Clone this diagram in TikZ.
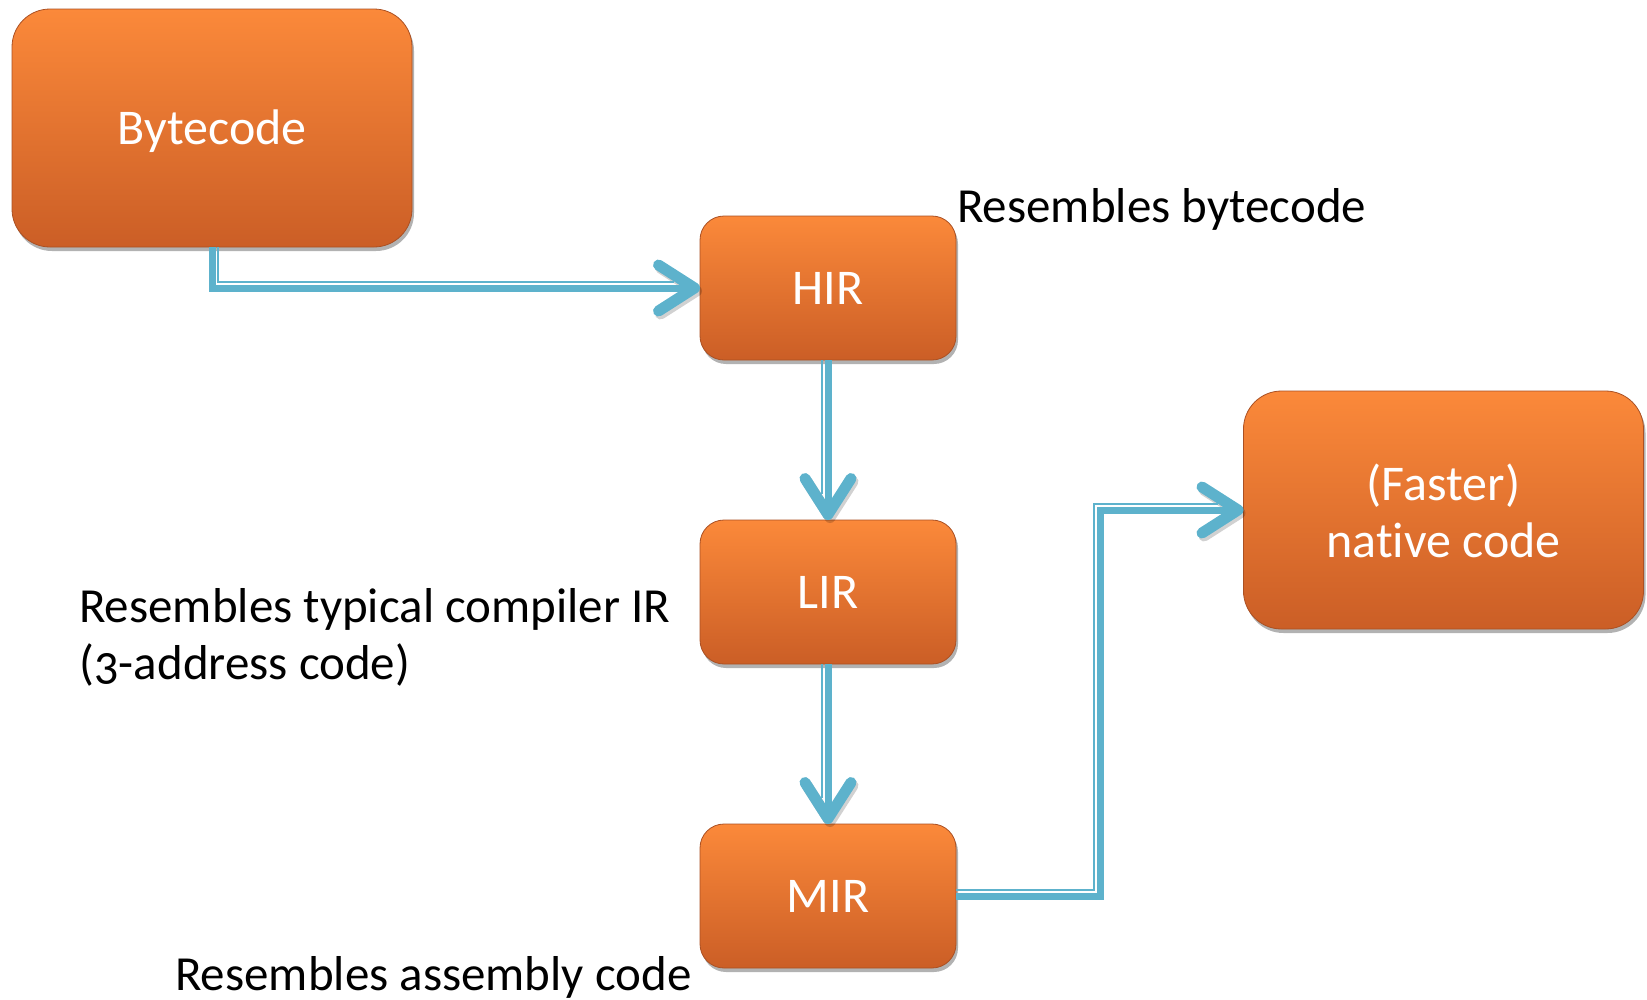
\documentclass[tikz,border=0pt]{standalone}
\usepackage{fontspec}
\setmainfont{Carlito}[Numbers=OldStyle, Ligatures=NoCommon]
\usetikzlibrary{arrows.meta,shadows,calc}
\definecolor{orT}{RGB}{251,137,58}
\definecolor{orB}{RGB}{203,94,38}
\definecolor{orE}{RGB}{170,80,35}
\definecolor{arrowc}{RGB}{93,178,204}
\newcommand\bigtxt{\fontsize{49}{56}\selectfont}
\newcommand\boxtxtfont{\fontsize{50}{56}\selectfont}
\begin{document}
\begin{tikzpicture}[x=1pt,y=-1pt,
  box/.style={rectangle, top color=orT, bottom color=orB, draw=orE, line width=0.8pt,
    text=white, font=\boxtxtfont, text height=32pt, text depth=0pt, inner sep=0pt, outer sep=0pt,
    drop shadow={shadow xshift=2pt, shadow yshift=-4pt, opacity=0.3, fill=black}},
  bigbox/.style={box, rounded corners=38pt, minimum width=400pt, minimum height=238pt},
  smallbox/.style={box, rounded corners=24pt, minimum width=256pt, minimum height=144pt},
  lbl/.style={font=\bigtxt, text=black, inner sep=0pt, anchor=base west},
  boxtxt/.style={font=\boxtxtfont, text=white, inner sep=0pt, anchor=base},
  conn/.style={line width=7pt, draw=arrowc,
    -{Straight Barb[length=36pt, width=46pt, line width=11pt, round]},
    preaction={draw=black, opacity=0.18, transform canvas={shift={(2pt,-3pt)}}}},
  connthin/.style={line width=2pt, draw=arrowc}]
\useasboundingbox (0,0) rectangle (1647,999);

\node[bigbox] (byte) at (212,128) {Bytecode};
\node[smallbox] (hir) at (828,288) {HIR};
\node[smallbox] (lir) at (828,592) {LIR};
\node[smallbox] (mir) at (828,896) {MIR};
\node[bigbox, text height=0pt] (nat) at (1443.5,510) {};
\node[boxtxt] (nat1) at ($(nat.center)+(0,-10)$) {(Faster)};
\node[boxtxt] (nat2) at ($(nat.center)+(0,47)$) {nat\kern0pt ive code};

\node[lbl] (l1) at (957,222) {Resembles bytecode};
\node[lbl] (l2) at (79,622) {Resembles typical compiler IR};
\node[lbl] (l3) at (79,679) {(3-address code)};
\node[lbl] (l4) at (175,990) {Resembles assembly code};

\coordinate (j4) at (1100,0);

% connectors
\draw[conn] (byte.south) |- (hir.west);
\draw[connthin] ($(byte.south)+(6,0)$) |- ($(hir.west)+(-26,-6.5)$);

\draw[conn] (hir.south) -- (lir.north);
\draw[connthin] ($(hir.south)+(-6,0)$) -- ($(lir.north)+(-6,-26)$);

\draw[conn] (lir.south) -- (mir.north);
\draw[connthin] ($(lir.south)+(-6,0)$) -- ($(mir.north)+(-6,-26)$);

\draw[conn] (mir.east) -| (j4 |- nat.west) -- (nat.west);
\draw[connthin] ($(mir.east)+(0,-6)$) -| ($(j4 |- nat.west)+(-6,-6)$) -- ($(nat.west)+(-26,-6)$);
\end{tikzpicture}
\end{document}
